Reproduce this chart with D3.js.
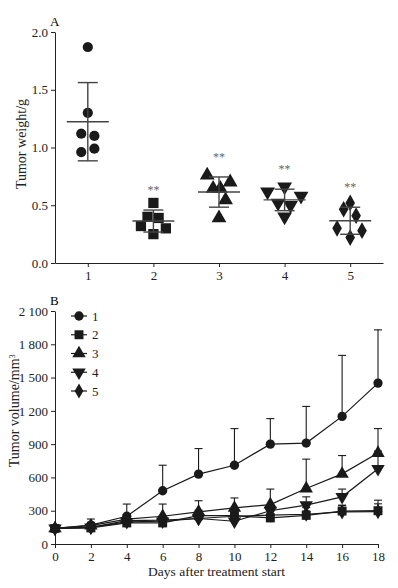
<!DOCTYPE html>
<html>
<head>
<meta charset="utf-8">
<script src="https://cdn.jsdelivr.net/npm/d3@7"></script>
<style>
  body { margin: 0; background: #fff; }
  svg { display: block; font-family: "Liberation Serif", "Times New Roman", serif; }
  .axis path, .axis line { stroke: #222; stroke-width: 1; }
</style>
</head>
<body>
<div id="chart"></div>
<script>
// ---- panel A data: tumor weight per animal ----
var groupsA = [1, 2, 3, 4, 5];
var weights1 = [1.87, 1.30, 1.12, 1.10, 0.96, 0.99];
var weights2 = [0.52, 0.40, 0.39, 0.32, 0.30, 0.25];
var weights3 = [0.76, 0.70, 0.645, 0.645, 0.545, 0.39];
var weights4 = [0.617, 0.66, 0.58, 0.52, 0.50, 0.40];
var weights5 = [0.52, 0.465, 0.41, 0.30, 0.28, 0.22];
// horizontal scatter of the dots, in group units
var jitter1 = [0, 0, -0.1, 0.1, -0.1, 0.1];
var jitter2 = [0, -0.09, 0.08, -0.19, 0.19, 0];
var jitter3 = [-0.18, 0.17, -0.09, 0.02, 0.1, 0];
var jitter4 = [-0.26, 0, 0.25, -0.1, 0.09, 0];
var jitter5 = [0, -0.1, 0.09, -0.2, 0.18, 0];
var ticksA = [0, 0.5, 1.0, 1.5, 2.0];

// ---- panel B data: tumor volume over time (mean, SD) ----
var days = [0, 2, 4, 6, 8, 10, 12, 14, 16, 18];
var volume1 = [140, 170, 250, 480, 630, 710, 900, 910, 1150, 1450];
var volume2 = [140, 145, 190, 190, 255, 255, 235, 258, 297, 300];
var volume3 = [140, 165, 225, 250, 290, 325, 355, 500, 632, 820];
var volume4 = [140, 150, 200, 205, 230, 205, 300, 350, 425, 678];
var volume5 = [140, 150, 210, 215, 230, 250, 260, 268, 290, 292];
var sd1 = [15, 55, 110, 230, 230, 330, 230, 330, 550, 480];
var sd2 = [10, 15, 30, 30, 50, 40, 40, 40, 50, 95];
var sd3 = [10, 30, 40, 110, 100, 90, 140, 265, 165, 220];
var sd4 = [10, 20, 30, 40, 50, 40, 50, 75, 70, 160];
var sd5 = [10, 20, 30, 40, 60, 50, 40, 60, 60, 70];
var ticksB = [0, 300, 600, 900, 1200, 1500, 1800, 2100];
var ticksDays = [0, 2, 4, 6, 8, 10, 12, 14, 16, 18];

var seriesNames = ["1", "2", "3", "4", "5"];

var W = 398, H = 588;
var svg = d3.select("#chart").append("svg").attr("width", W).attr("height", H);

var invTriangle = {
  draw: function (context, size) {
    var y = -Math.sqrt(size / (3 * Math.sqrt(3)));
    context.moveTo(0, -y * 2);
    context.lineTo(-Math.sqrt(3) * y, y);
    context.lineTo(Math.sqrt(3) * y, y);
    context.closePath();
  }
};
var shapes = [d3.symbolCircle, d3.symbolSquare, d3.symbolTriangle, invTriangle, d3.symbolDiamond];
var sizesA = [82, 105, 95, 95, 80];
var sizesB = [68, 80, 78, 78, 66];

var styleAxis = function styleAxis(g) {
  g.attr("font-size", 13).attr("font-family", "Liberation Serif, serif");
  g.selectAll("text").attr("fill", "#222");
};

// ================= panel A =================
var xA = d3.scaleLinear().domain([0.5, 5.5]).range([55, 383]);
var yA = d3.scaleLinear().domain([0, 2]).range([263, 32]);

var gA = svg.append("g");

gA.append("g").attr("class", "axis")
  .attr("transform", "translate(" + xA.range()[0] + ",0)")
  .call(d3.axisLeft(yA).tickValues(ticksA).tickFormat(d3.format(".1f")).tickSize(4).tickSizeOuter(0).tickPadding(3))
  .call(styleAxis);

gA.append("g").attr("class", "axis")
  .attr("transform", "translate(0," + yA(0) + ")")
  .call(d3.axisBottom(xA).tickValues(groupsA).tickFormat(d3.format("d")).tickSize(4).tickSizeOuter(0).tickPadding(4))
  .call(styleAxis);

gA.append("text").attr("x", 50).attr("y", 26).attr("font-size", 13).text("A");

gA.append("text")
  .attr("transform", "translate(21," + yA(1.03) + ") rotate(-90)")
  .attr("text-anchor", "middle").attr("dy", "0.35em")
  .attr("font-size", 14).attr("fill", "#222")
  .text("Tumor weight/g");

var weightsAll = [weights1, weights2, weights3, weights4, weights5];
var jitterAll = [jitter1, jitter2, jitter3, jitter4, jitter5];

weightsAll.forEach(function (vals, i) {
  var grp = groupsA[i];
  var cx = xA(grp);
  var m = d3.mean(vals);
  var s = d3.deviation(vals);

  vals.forEach(function (v, j) {
    gA.append("path")
      .attr("d", d3.symbol().type(shapes[i]).size(sizesA[i])())
      .attr("transform", "translate(" + xA(grp + jitterAll[i][j]) + "," + yA(v) + ")")
      .attr("fill", "#1a1a1a");
  });

  var bar = gA.append("g").attr("stroke", "#444").attr("stroke-width", 1.4);
  bar.append("line").attr("x1", cx).attr("x2", cx).attr("y1", yA(m - s)).attr("y2", yA(m + s));
  bar.append("line").attr("x1", cx - 10).attr("x2", cx + 10).attr("y1", yA(m + s)).attr("y2", yA(m + s));
  bar.append("line").attr("x1", cx - 10).attr("x2", cx + 10).attr("y1", yA(m - s)).attr("y2", yA(m - s));
  bar.append("line").attr("x1", cx - 21).attr("x2", cx + 21).attr("y1", yA(m)).attr("y2", yA(m));

  if (i > 0) {
    gA.append("text")
      .attr("x", cx).attr("y", yA(m + s) - 16)
      .attr("text-anchor", "middle").attr("font-size", 12).attr("fill", "#666")
      .text("**");
  }
});

// ================= panel B =================
var xB = d3.scaleLinear().domain([0, 18]).range([55, 378]);
var yB = d3.scaleLinear().domain([0, 2100]).range([544, 311]);

var spaceFormat = d3.formatLocale({ decimal: ".", thousands: " ", grouping: [3], currency: ["", ""] }).format(",");

var gB = svg.append("g");

gB.append("g").attr("class", "axis")
  .attr("transform", "translate(" + xB.range()[0] + ",0)")
  .call(d3.axisLeft(yB).tickValues(ticksB).tickFormat(spaceFormat).tickSize(4).tickSizeOuter(0).tickPadding(3))
  .call(styleAxis);

gB.append("g").attr("class", "axis")
  .attr("transform", "translate(0," + yB(0) + ")")
  .call(d3.axisBottom(xB).tickValues(ticksDays).tickFormat(d3.format("d")).tickSize(4).tickSizeOuter(0).tickPadding(4))
  .call(styleAxis);

gB.append("text").attr("x", 50).attr("y", 305).attr("font-size", 13).text("B");

var yLabel = gB.append("text")
  .attr("transform", "translate(14," + yB(1200) + ") rotate(-90)")
  .attr("text-anchor", "middle").attr("dy", "0.35em")
  .attr("font-size", 14).attr("fill", "#222");
yLabel.append("tspan").text("Tumor volume/mm");
yLabel.append("tspan").attr("dy", "-0.45em").attr("font-size", 8).text("3");

gB.append("text")
  .attr("x", (xB.range()[0] + xB.range()[1]) / 2).attr("y", 576)
  .attr("text-anchor", "middle").attr("font-size", 13.5).attr("fill", "#222")
  .text("Days after treatment start");

var volumesAll = [volume1, volume2, volume3, volume4, volume5];
var sdAll = [sd1, sd2, sd3, sd4, sd5];

var line = d3.line()
  .x(function (d) { return xB(d[0]); })
  .y(function (d) { return yB(d[1]); });

var drawOrder = [4, 3, 1, 2, 0];

drawOrder.forEach(function (i) {
  var pts = days.map(function (d, k) { return [d, volumesAll[i][k], sdAll[i][k]]; });
  var g = gB.append("g");

  g.append("path").attr("d", line(pts))
    .attr("fill", "none").attr("stroke", "#1a1a1a").attr("stroke-width", 1.2);

  pts.forEach(function (p) {
    var x = xB(p[0]);
    var top = yB(p[1] + p[2]);
    g.append("line").attr("x1", x).attr("x2", x).attr("y1", yB(p[1])).attr("y2", top)
      .attr("stroke", "#1a1a1a").attr("stroke-width", 1.1);
    g.append("line").attr("x1", x - 4).attr("x2", x + 4).attr("y1", top).attr("y2", top)
      .attr("stroke", "#1a1a1a").attr("stroke-width", 1.1);
  });

  pts.forEach(function (p) {
    g.append("path")
      .attr("d", d3.symbol().type(shapes[i]).size(sizesB[i])())
      .attr("transform", "translate(" + xB(p[0]) + "," + yB(p[1]) + ")")
      .attr("fill", "#1a1a1a");
  });
});

// legend
var legendY = d3.scaleLinear().domain([0, 4]).range([316, 391]);
seriesNames.forEach(function (name, i) {
  var y = legendY(i);
  gB.append("line").attr("x1", 71).attr("x2", 87).attr("y1", y).attr("y2", y)
    .attr("stroke", "#1a1a1a").attr("stroke-width", 1.2);
  gB.append("path")
    .attr("d", d3.symbol().type(shapes[i]).size(sizesB[i])())
    .attr("transform", "translate(79," + y + ")")
    .attr("fill", "#1a1a1a");
  gB.append("text").attr("x", 92).attr("y", y).attr("dy", "0.35em")
    .attr("font-size", 13).attr("fill", "#222").text(name);
});
</script>
</body>
</html>
